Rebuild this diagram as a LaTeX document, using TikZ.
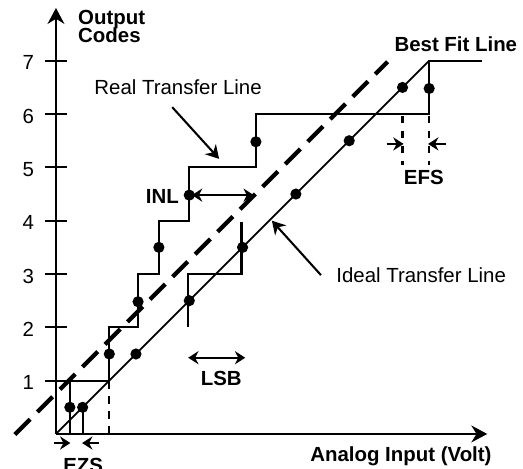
\documentclass[tikz,border=0pt]{standalone}
\usepackage{fontspec}
\setmainfont{Liberation Sans}
\usetikzlibrary{arrows.meta}
\begin{document}
\begin{tikzpicture}[x=1cm,y=1cm,
  axisline/.style={line width=1.1pt},
  stair/.style={line width=1.1pt},
  ideal/.style={line width=0.9pt},
  bestfit/.style={line width=2.3pt, dash pattern=on 11.5pt off 5.5pt},
  guide/.style={line width=1.1pt, dash pattern=on 4pt off 4pt},
  dotmark/.style={circle, fill=black, inner sep=0pt, minimum size=0.21cm},
  lbl/.style={font=\fontsize{10.9}{12}\selectfont, inner sep=0pt},
  blbl/.style={font=\fontsize{10.9}{12}\selectfont\bfseries, inner sep=0pt},
  ptr/.style={line width=1.1pt, -{Stealth[length=7pt,width=8pt]}},
  dimarrow/.style={line width=1.1pt, {Stealth[length=5.5pt,width=7pt]}-{Stealth[length=5.5pt,width=7pt]}},
  halfarrow/.style={line width=1.1pt, -{Stealth[length=5.5pt,width=7pt]}}
]
\useasboundingbox (-1.05,-0.64) rectangle (8.76,8.14);

% axes
\coordinate (O) at (0,0);
\coordinate (ytop) at (0,7.99);
\coordinate (xend) at (8.09,0);
\draw[axisline,-{Stealth[length=8.5pt,width=9pt]}] (O) -- (ytop);
\draw[axisline,-{Stealth[length=8.5pt,width=9pt]}] (O) -- (xend);
\foreach \k in {1,...,7} {
  \draw[axisline] (-0.2,\k) -- (0.2,\k);
  \node[lbl] (t\k) at (-0.52,\k-0.04) {\k};
}
\node[blbl, anchor=base west] (oc1) at (0.41,7.68) {Output};
\node[blbl, anchor=base west] (oc2) at (0.41,7.34) {Codes};
\node[blbl, anchor=base] (xl) at (6.47,-0.52) {Analog Input (Volt)};

% best fit line
\coordinate (bf1) at (-0.77,-0.01);
\coordinate (bf2) at (6.22,6.98);
\draw[bestfit] (bf1) -- (bf2);

% ideal line
\coordinate (i0) at (0,0);
\coordinate (i7) at (7,7);
\draw[ideal] (i0) -- (i7);

% real staircase
\draw[stair] (0.26,0) |- (1.0,1) |- (1.54,2) |- (1.93,3) |- (2.5,4) |- (3.75,5) |- (7,6) |- (7.99,7);
\draw[stair] (0,1) -- (0.26,1);
\draw[stair] (0.5,0) -- (0.5,0.5);
\draw[guide] (1,0) -- (1,1);

% ideal staircase fragment
\draw[stair] (2.48,2.0) |- (3.48,3) -- (3.48,3.97);

% dots
\foreach \p/\n in {(0.26,0.5)/r1,(1.0,1.5)/r2,(1.54,2.48)/r3,(1.93,3.5)/r4,(2.5,4.48)/r5,(3.75,5.48)/r6,(7,6.48)/r7}
  \node[dotmark] (\n) at \p {};
\foreach \k in {0,...,6}
  \node[dotmark] (id\k) at (\k+0.5,\k+0.5) {};

% EFS
\draw[guide] (6.5,5.97) -- (6.5,5.05);
\draw[guide] (7,5.97) -- (7,5.05);
\coordinate (efsL0) at (6.2,5.44);
\coordinate (efsL1) at (6.52,5.44);
\coordinate (efsR0) at (7.32,5.44);
\coordinate (efsR1) at (6.98,5.44);
\draw[halfarrow] (efsL0) -- (efsL1);
\draw[halfarrow] (efsR0) -- (efsR1);
\node[blbl, anchor=base] (efs) at (6.9,4.68) {EFS};

% EZS
\coordinate (ezsL0) at (-0.04,-0.17);
\coordinate (ezsL1) at (0.27,-0.17);
\coordinate (ezsR0) at (0.8,-0.17);
\coordinate (ezsR1) at (0.49,-0.17);
\draw[halfarrow] (ezsL0) -- (ezsL1);
\draw[halfarrow] (ezsR0) -- (ezsR1);
\node[blbl, anchor=base] (ezs) at (0.51,-0.73) {EZS};

% INL
\coordinate (inl0) at (2.55,4.48);
\coordinate (inl1) at (3.71,4.48);
\draw[dimarrow] (inl0) -- (inl1);
\node[blbl, anchor=base east] (inl) at (2.31,4.32) {INL};

% LSB
\coordinate (lsb0) at (2.48,1.43);
\coordinate (lsb1) at (3.55,1.43);
\draw[dimarrow] (lsb0) -- (lsb1);
\node[blbl, anchor=base] (lsb) at (3.1,0.9) {LSB};

% labels with pointers
\node[lbl, anchor=base] (rtl) at (2.29,6.36) {Real Transfer Line};
\coordinate (rtl0) at (2.18,6.13);
\coordinate (rtl1) at (3.06,5.16);
\draw[ptr] (rtl0) -- (rtl1);

\node[lbl, anchor=base] (itl) at (6.85,2.84) {Ideal Transfer Line};
\coordinate (itl0) at (4.97,2.98);
\coordinate (itl1) at (4.05,4.0);
\draw[ptr] (itl0) -- (itl1);

\node[blbl, anchor=base] (bfl) at (7.5,7.17) {Best Fit Line};
\end{tikzpicture}
\end{document}
